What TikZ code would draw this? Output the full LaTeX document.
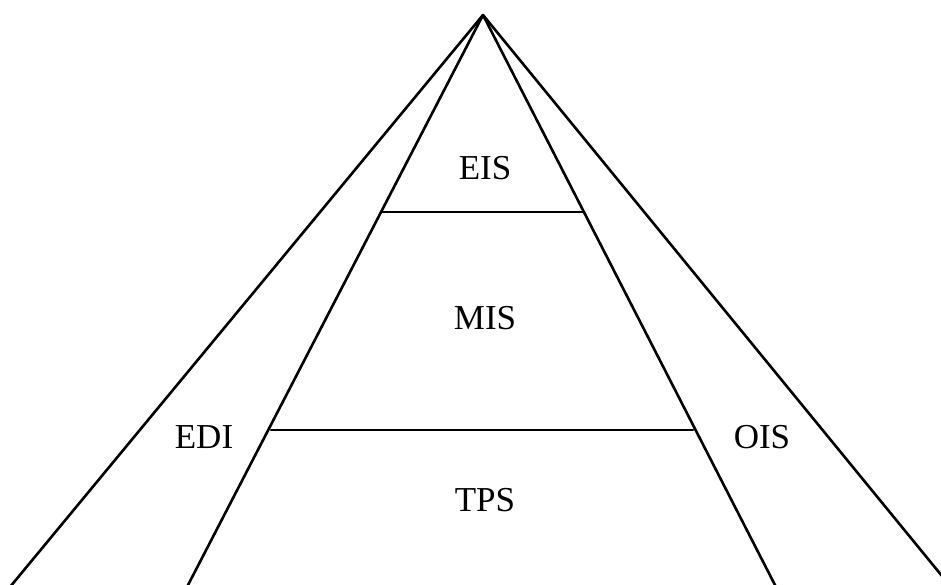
\documentclass[tikz,border=0pt]{standalone}
\usepackage{fontspec}
\setmainfont{Liberation Serif}
\begin{document}
\begin{tikzpicture}[x=1pt,y=-1pt,
  edge/.style={line width=2.6pt,line cap=round},
  lbl/.style={font=\fontsize{35}{38}\selectfont,inner sep=0pt}]
\useasboundingbox (0,0) rectangle (941,585);
\clip (0,0) rectangle (941,585);
\coordinate (apex) at (483,15);
\coordinate (lo) at (10,587);
\coordinate (li) at (187,587);
\coordinate (ri) at (776,587);
\coordinate (ro) at (951,587);
\draw[edge] (apex) -- (lo);
\draw[edge] (apex) -- (li);
\draw[edge] (apex) -- (ri);
\draw[edge] (apex) -- (ro);
\coordinate (e1) at (382,212);
\coordinate (e2) at (584,212);
\draw[edge] (e1) -- (e2);
\coordinate (t1) at (271,430);
\coordinate (t2) at (693,430);
\draw[edge] (t1) -- (t2);
\node[lbl] (eis) at (485,168) {EIS};
\node[lbl] (mis) at (485,318) {MIS};
\node[lbl] (tps) at (485,500) {TPS};
\node[lbl] (edi) at (204,437) {EDI};
\node[lbl] (ois) at (762,437) {OIS};
\end{tikzpicture}
\end{document}
